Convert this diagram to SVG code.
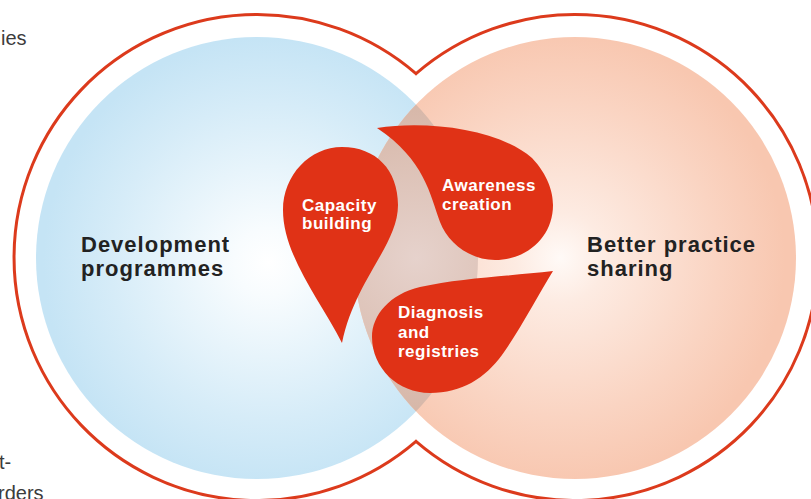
<svg xmlns="http://www.w3.org/2000/svg" width="811" height="499" viewBox="0 0 811 499">
  <style>
    .side { font-family: "Liberation Sans", Arial, sans-serif; font-size: 20px; fill: #3c3c3c; }
    .big { font-family: "Liberation Sans", Arial, sans-serif; font-size: 22px; font-weight: bold; fill: #222222; letter-spacing: 1px; }
    .drop { fill: #e03216; }
    .drop-text { font-family: "Liberation Sans", Arial, sans-serif; font-size: 17px; font-weight: bold; fill: #ffffff; letter-spacing: 0.5px; }
  </style>
  <defs>
    <radialGradient id="blueFill" gradientUnits="userSpaceOnUse" cx="268" cy="262" r="225">
      <stop offset="0" stop-color="#ffffff"/>
      <stop offset="0.15" stop-color="#f8fcfe"/>
      <stop offset="0.7" stop-color="#d6ecf8"/>
      <stop offset="1" stop-color="#c5e4f5"/>
    </radialGradient>
    <radialGradient id="peachFill" gradientUnits="userSpaceOnUse" cx="560" cy="258" r="225">
      <stop offset="0" stop-color="#fffaf7"/>
      <stop offset="0.2" stop-color="#fdebe2"/>
      <stop offset="0.7" stop-color="#fad4c2"/>
      <stop offset="1" stop-color="#f8c7b0"/>
    </radialGradient>
    <radialGradient id="lensFill" gradientUnits="userSpaceOnUse" cx="416" cy="258" r="160">
      <stop offset="0" stop-color="#e6d2cc"/>
      <stop offset="1" stop-color="#d6b6a7"/>
    </radialGradient>
    <clipPath id="leftDisc">
      <circle cx="257" cy="258" r="221"/>
    </clipPath>
  </defs>

  <!-- cut-off body text at the left edge -->
  <text class="side" x="1" y="45">ies</text>
  <text class="side" x="-1" y="469">t-</text>
  <text class="side" x="-2" y="500">rders</text>

  <!-- outer outline of the two joined circles -->
  <g id="outline">
    <path d="M416,73.7 A243,243 0 1,0 416,441.3 A243,243 0 1,0 416,73.7 Z" fill="none" stroke="#dc3a1c" stroke-width="3"/>
  </g>

  <!-- filled circles -->
  <g id="development-programmes">
    <circle cx="257" cy="258" r="221" fill="url(#blueFill)"/>
    <text class="big" x="81" y="252">Development</text>
    <text class="big" x="81" y="276">programmes</text>
  </g>
  <g id="better-practice-sharing">
    <circle cx="575" cy="258" r="221" fill="url(#peachFill)"/>
    <circle cx="575" cy="258" r="221" fill="url(#lensFill)" clip-path="url(#leftDisc)"/>
    <text class="big" x="587" y="252">Better practice</text>
    <text class="big" x="587" y="276">sharing</text>
  </g>

  <!-- three teardrops -->
  <g id="capacity-building">
    <path class="drop" d="M342,343 C320,300 283,255 283,210 C283,175 310,147 342,147 C376,147 398,170 398,205 C398,245 355,280 342,343 Z"/>
    <text class="drop-text" x="302" y="211">Capacity</text>
    <text class="drop-text" x="302" y="229">building</text>
  </g>
  <g id="awareness-creation">
    <path class="drop" d="M377,128 C430,120 500,130 532,158 C548,175 553,192 553,205 C553,237 527,260 495,260 C470,260 448,243 440,222 C430,195 425,160 377,128 Z"/>
    <text class="drop-text" x="442" y="191">Awareness</text>
    <text class="drop-text" x="442" y="210">creation</text>
  </g>
  <g id="diagnosis-registries">
    <path class="drop" d="M553,271 C510,276 460,278 420,287 C390,294 372,315 372,337 C372,368 398,393 430,393 C462,393 485,378 502,355 C520,330 538,295 553,271 Z"/>
    <text class="drop-text" x="398" y="318">Diagnosis</text>
    <text class="drop-text" x="398" y="338">and</text>
    <text class="drop-text" x="398" y="357">registries</text>
  </g>

  <g id="connectors"/>
</svg>
